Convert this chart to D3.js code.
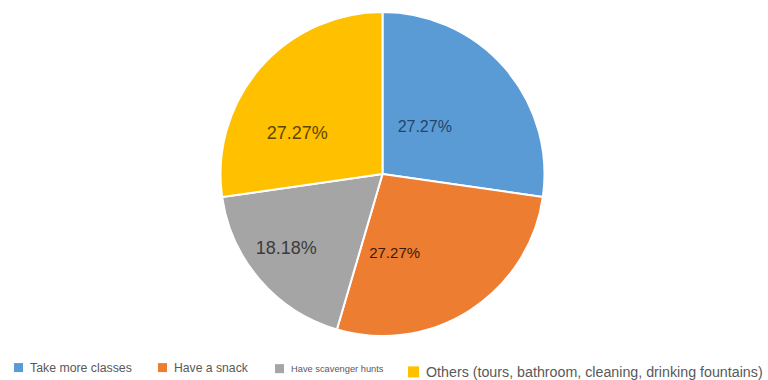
<!DOCTYPE html>
<html>
<head>
<meta charset="utf-8">
<script src="https://cdn.jsdelivr.net/npm/d3@7/dist/d3.min.js"></script>
<style>
  html, body { margin: 0; padding: 0; background: #ffffff; }
  svg { display: block; font-family: "Liberation Sans", Arial, sans-serif; }
</style>
</head>
<body>
<svg id="chart" width="768" height="380"></svg>
<script>
// Survey answers: what to do during free time
const categories = [
  "Take more classes",
  "Have a snack",
  "Have scavenger hunts",
  "Others (tours, bathroom, cleaning, drinking fountains)"
];
const values = [3, 3, 2, 3];
const colors = ["#5B9BD5", "#ED7D31", "#A5A5A5", "#FFC000"];

// Label styling / nudges for each slice (relative to the arc centroid)
const labelStyle = [
  { dx: -25, dy: 11, size: 16, color: "#24456b" },
  { dx: -36, dy: 4,  size: 15, color: "#3d1a08" },
  { dx: -29, dy: 16, size: 18, color: "#3c3c3c" },
  { dx: -18, dy: 17, size: 18, color: "#5e4600" }
];
// Legend layout
const legendLayout = [
  { x: 14,  y: 372, box: 9,  size: 12.3 },
  { x: 158, y: 372, box: 9,  size: 12.2 },
  { x: 275, y: 372, box: 9,  size: 9.3 },
  { x: 408, y: 377, box: 11, size: 14.25 }
];

const svg = d3.select("#chart");
const cx = 382.5, cy = 174, r = 162;

const total = d3.sum(values);
const pie = d3.pie().sort(null).value(d => d)(values);
const arc = d3.arc().innerRadius(0).outerRadius(r);
const labelArc = d3.arc().innerRadius(89).outerRadius(89);
const fmt = v => (v / total * 100).toFixed(2) + "%";

const g = svg.append("g").attr("transform", `translate(${cx},${cy})`);

g.selectAll("path.slice")
  .data(pie)
  .join("path")
  .attr("class", "slice")
  .attr("d", arc)
  .attr("fill", (d, i) => colors[i])
  .attr("stroke", "#ffffff")
  .attr("stroke-width", 2)
  .attr("stroke-linejoin", "round");

g.selectAll("text.lbl")
  .data(pie)
  .join("text")
  .attr("class", "lbl")
  .attr("x", (d, i) => labelArc.centroid(d)[0] + labelStyle[i].dx)
  .attr("y", (d, i) => labelArc.centroid(d)[1] + labelStyle[i].dy)
  .attr("text-anchor", "middle")
  .attr("dominant-baseline", "central")
  .attr("font-size", (d, i) => labelStyle[i].size)
  .attr("fill", (d, i) => labelStyle[i].color)
  .text(d => fmt(d.data));

// Legend
const leg = svg.selectAll("g.legend")
  .data(categories)
  .join("g")
  .attr("class", "legend");

leg.append("rect")
  .attr("x", (d, i) => legendLayout[i].x)
  .attr("y", (d, i) => legendLayout[i].y - legendLayout[i].size * 0.36 - legendLayout[i].box / 2)
  .attr("width", (d, i) => legendLayout[i].box)
  .attr("height", (d, i) => legendLayout[i].box)
  .attr("fill", (d, i) => colors[i]);

leg.append("text")
  .attr("x", (d, i) => legendLayout[i].x + legendLayout[i].box + 7)
  .attr("y", (d, i) => legendLayout[i].y)
  .attr("font-size", (d, i) => legendLayout[i].size)
  .attr("fill", "#595959")
  .text(d => d);
</script>
</body>
</html>
